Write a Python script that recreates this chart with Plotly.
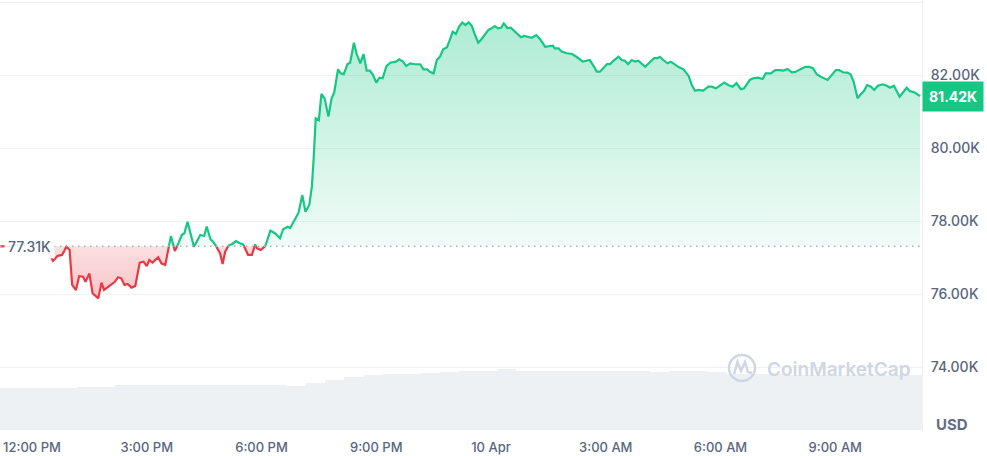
import numpy as np
import pandas as pd
import plotly.graph_objects as go

# ---------------- data ----------------
BASE_TIME = "2025-04-09 12:00"
open_price = 77310
last_price = 81420

minutes_from_noon = [
    -50, -40, -20, 0, 10, 17,
    33, 40, 47, 50, 54, 59, 63, 69, 74, 80, 84, 90, 95, 104, 109, 113, 122, 130, 135, 140, 145, 150, 156, 162,
    169, 175, 180, 184, 189, 198, 203, 209, 218, 224, 228, 235, 239, 244, 249, 254,
    264, 270, 274, 280, 284, 290, 295, 299, 303, 308, 314, 320, 326, 331, 336, 339, 345, 350, 353, 359, 366,
    374, 381, 389, 394, 401,
    405, 411, 418, 424, 429, 435, 439, 442, 445, 450, 454, 459, 465, 470, 474, 480, 484, 489, 495, 499, 505,
    509, 515, 520, 525, 530, 535, 540, 545, 550, 556, 562, 571, 576, 582, 587, 593, 601, 609, 614, 620,
    624, 630, 635, 640, 645, 651, 655, 660, 665, 670, 675, 680, 685, 690, 695, 700, 705, 711, 716, 721, 726,
    731, 736, 740, 746, 751, 756, 761, 767, 772, 779, 784, 791, 797, 805, 811, 817, 820, 826, 831, 839, 847,
    854, 864, 870,
    875, 881, 886, 891, 896, 902, 907, 912, 920, 925, 930, 935, 941, 946, 951, 956, 962, 969, 976, 981, 985,
    990, 997, 1002, 1009, 1015, 1022, 1030, 1035, 1040, 1045, 1053, 1061, 1066, 1073, 1079, 1086, 1092, 1099,
    1105, 1112, 1117,
    1126, 1131, 1139, 1146, 1151, 1159, 1166, 1173, 1179, 1185, 1192, 1198, 1206, 1213, 1219, 1225, 1231,
    1237, 1248, 1254, 1261, 1266, 1272, 1279, 1284, 1289, 1295, 1300, 1305, 1310, 1316, 1321, 1327, 1334,
    1341, 1346, 1352, 1361, 1367, 1372, 1377, 1384, 1389, 1393,
]

prices = [
    77305, 77300, 77340, 77400, 77440, 77420,
    76910, 77040, 77070, 77160, 77300, 77205, 76250, 76110, 76490, 76475, 76335, 76565, 76020, 75880, 76310,
    76110, 76220, 76335, 76460, 76430, 76250, 76275, 76175, 76220, 76860, 76885, 76765, 76930, 76860, 77005,
    76840, 76795, 77590, 77180, 77320, 77615, 77665, 77980, 77665, 77295,
    77615, 77590, 77845, 77500, 77435, 77280, 77115, 76820, 77160, 77320, 77370, 77450, 77390, 77360, 77205,
    77070, 77070, 77360, 77250, 77205, 77315, 77735, 77665, 77525, 77775, 77845,
    77810, 78000, 78220, 78710, 78255, 78440, 78940, 79760, 80815, 80765, 81480, 81360, 80860, 81360, 81515,
    82155, 82045, 82025, 82300, 82335, 82885, 82595, 82320, 82575, 82120, 82120, 82000, 81790, 81925, 81910,
    82245, 82335, 82365, 82430, 82365, 82245, 82320, 82295, 82295, 82155, 82155,
    82090, 82045, 82410, 82505, 82705, 82760, 82940, 83185, 83125, 83325, 83435, 83370, 83445, 83340, 83095,
    82885, 82980, 83125, 83235, 83280, 83340, 83280, 83295, 83415, 83280, 83295, 83215, 83140, 83035, 83070,
    83035, 83020, 83095, 82980, 82775, 82795, 82805, 82730, 82730, 82640, 82595, 82575, 82500, 82365, 82390,
    82410, 82245, 82090, 82090, 82185, 82300, 82300, 82390, 82500, 82410, 82390, 82300, 82410, 82365, 82390,
    82320, 82225, 82350, 82460, 82460, 82500, 82410, 82320, 82365, 82275, 82210, 82155, 81975, 81725, 81570,
    81590, 81570, 81680, 81680, 81635, 81700, 81790, 81725, 81680, 81775, 81610, 81635,
    81865, 81910, 81925, 81890, 82045, 82045, 82135, 82135, 82120, 82165, 82075, 82090, 82165, 82225, 82225,
    82185, 82020, 81955, 81865, 81980, 82135, 82135, 82075, 82065, 82020, 81815, 81360, 81470, 81560, 81725,
    81680, 81590, 81705, 81745, 81705, 81650, 81705, 81405, 81540, 81650, 81560, 81525, 81470, 81420,
]

# 30-minute volume bars (billions USD, 24h rolling)
volume_start = "2025-04-09 11:25"
volume_bn = [
    21.0, 21.0, 21.0, 21.0, 21.5, 21.75, 22.35, 22.35, 22.65, 22.65, 22.65, 22.75, 22.75, 22.75, 22.65,
    22.15, 23.5, 25.25, 26.35, 27.5, 27.9, 28.25, 28.65, 29.1, 29.35, 29.75, 30.5, 29.75, 29.6, 29.5,
    29.5, 29.5, 29.35, 29.5, 29.25, 29.35, 29.35, 29.0, 28.25, 28.0, 27.85, 27.75, 27.65, 27.65, 27.5,
    27.5, 27.35, 27.35, 27.35,
]

x_tick_times = ["2025-04-09 12:00", "2025-04-09 15:00", "2025-04-09 18:00", "2025-04-09 21:00",
                "2025-04-10 00:00", "2025-04-10 03:00", "2025-04-10 06:00", "2025-04-10 09:00"]
x_tick_labels = ["12:00 PM", "3:00 PM", "6:00 PM", "9:00 PM", "10 Apr", "3:00 AM", "6:00 AM", "9:00 AM"]
y_tick_vals = [74000, 76000, 78000, 80000, 82000, 84000]
y_tick_labels = ["74.00K", "76.00K", "78.00K", "80.00K", "82.00K", ""]

assert len(minutes_from_noon) == len(prices)

# ---------------- styling ----------------
GREEN = "#16c784"
RED = "#ea3943"
GRID = "#eff2f5"
TXT = "#58667e"
FONT = "Inter"

# split line at baseline crossings
t = np.array(minutes_from_noon, float)
p = np.array(prices, float)
tt, pp = [t[0]], [p[0]]
for i in range(1, len(t)):
    a, b = p[i - 1] - open_price, p[i] - open_price
    if a * b < 0:
        tc = t[i - 1] + (open_price - p[i - 1]) / (p[i] - p[i - 1]) * (t[i] - t[i - 1])
        tt.append(tc)
        pp.append(float(open_price))
    tt.append(t[i])
    pp.append(p[i])
tt = np.array(tt)
pp = np.array(pp)
times = pd.Timestamp(BASE_TIME) + pd.to_timedelta(tt, unit="m")

green_line = [v if v >= open_price else None for v in pp]
red_line = [v if v <= open_price else None for v in pp]
upper = np.maximum(pp, open_price)
lower = np.minimum(pp, open_price)
base_arr = np.full(len(pp), float(open_price))

vol_times = pd.date_range(volume_start, periods=len(volume_bn), freq="30min")

fig = go.Figure()

fig.add_trace(go.Bar(x=vol_times, y=volume_bn, yaxis="y2", marker=dict(color="#eef1f4", line=dict(width=0)),
                     hoverinfo="skip", showlegend=False))

fig.add_trace(go.Scatter(x=times, y=base_arr, mode="lines", line=dict(width=0), hoverinfo="skip", showlegend=False))
fig.add_trace(go.Scatter(x=times, y=upper, mode="lines", line=dict(width=0), fill="tonexty",
                         fillgradient=dict(type="vertical", start=open_price, stop=83500,
                                           colorscale=[[0, "rgba(22,199,132,0.06)"], [1, "rgba(22,199,132,0.35)"]]),
                         hoverinfo="skip", showlegend=False))
fig.add_trace(go.Scatter(x=times, y=base_arr, mode="lines", line=dict(width=0), hoverinfo="skip", showlegend=False))
fig.add_trace(go.Scatter(x=times, y=lower, mode="lines", line=dict(width=0), fill="tonexty",
                         fillgradient=dict(type="vertical", start=75850, stop=open_price,
                                           colorscale=[[0, "rgba(234,57,67,0.30)"], [1, "rgba(234,57,67,0.16)"]]),
                         hoverinfo="skip", showlegend=False))
fig.add_trace(go.Scatter(x=times, y=green_line, mode="lines", line=dict(color=GREEN, width=2.2),
                         connectgaps=False, showlegend=False))
fig.add_trace(go.Scatter(x=times, y=red_line, mode="lines", line=dict(color=RED, width=2.2),
                         connectgaps=False, showlegend=False))

PW, PH = 922, 432


def px(x):
    return x / PW


def py(y):
    return (PH - y) / PH


shapes = [
    dict(type="line", xref="paper", yref="y", x0=0, x1=1, y0=open_price, y1=open_price,
         line=dict(color="#a6b0c3", width=1.5, dash="1.5px,4.5px"), layer="above"),
    # watermark logo
    dict(type="circle", xref="paper", yref="paper", x0=px(729), x1=px(755), y0=py(381), y1=py(355),
         line=dict(color="#cfd6e4", width=2.5)),
    dict(type="path", xref="paper", yref="paper",
         path=f"M {px(734)} {py(374)} L {px(737.5)} {py(362)} L {px(741)} {py(371)} L {px(745)} {py(362)} "
              f"L {px(748)} {py(372)} L {px(752)} {py(373)}",
         line=dict(color="#cfd6e4", width=2.5)),
]

annotations = [
    dict(xref="paper", yref="y", x=0, y=open_price, xanchor="left", yanchor="middle", xshift=4,
         text="77.31K", showarrow=False, bgcolor="rgba(255,255,255,0.9)", borderpad=3,
         font=dict(family=FONT, size=14, color=TXT, weight=500)),
    dict(xref="paper", yref="y", x=1, y=last_price, xanchor="left", yanchor="middle", xshift=0,
         text="<b>81.42K</b>", showarrow=False, bgcolor=GREEN, borderpad=6,
         font=dict(family=FONT, size=14, color="white")),
    dict(xref="paper", yref="paper", x=px(952), y=py(424), xanchor="center", yanchor="middle",
         text="<b>USD</b>", showarrow=False, font=dict(family=FONT, size=15, color="#616e85")),
    dict(xref="paper", yref="paper", x=px(765), y=py(369), xanchor="left", yanchor="middle",
         text="CoinMarketCap", showarrow=False, font=dict(family=FONT, size=19, color="#cfd6e4", weight=600)),
]

fig.update_layout(
    width=987, height=456,
    margin=dict(l=0, r=65, t=0, b=24, autoexpand=False),
    paper_bgcolor="white", plot_bgcolor="white",
    showlegend=False, bargap=0.0,
    font=dict(family=FONT, color=TXT),
    xaxis=dict(range=["2025-04-09 11:09:48", "2025-04-10 11:16:06"], tickvals=x_tick_times,
               ticktext=x_tick_labels, showgrid=False, zeroline=False, showline=False, ticks="",
               automargin=False, ticklabelstandoff=6,
               tickfont=dict(family=FONT, size=13, color=TXT, weight=500)),
    yaxis=dict(range=[72219, 84055], side="right", tickvals=y_tick_vals, ticktext=y_tick_labels,
               showgrid=True, gridcolor=GRID, gridwidth=1, zeroline=False, ticks="",
               showline=True, linecolor=GRID, linewidth=1, ticklabelstandoff=5, automargin=False,
               tickfont=dict(family=FONT, size=14, color=TXT, weight=500)),
    yaxis2=dict(overlaying="y", range=[-1, 215], visible=False, showgrid=False),
    shapes=shapes,
    annotations=annotations,
)

fig.write_html("out.html", config={"displayModeBar": False},
               post_script="document.body.style.margin='0';document.body.style.overflow='hidden';")
